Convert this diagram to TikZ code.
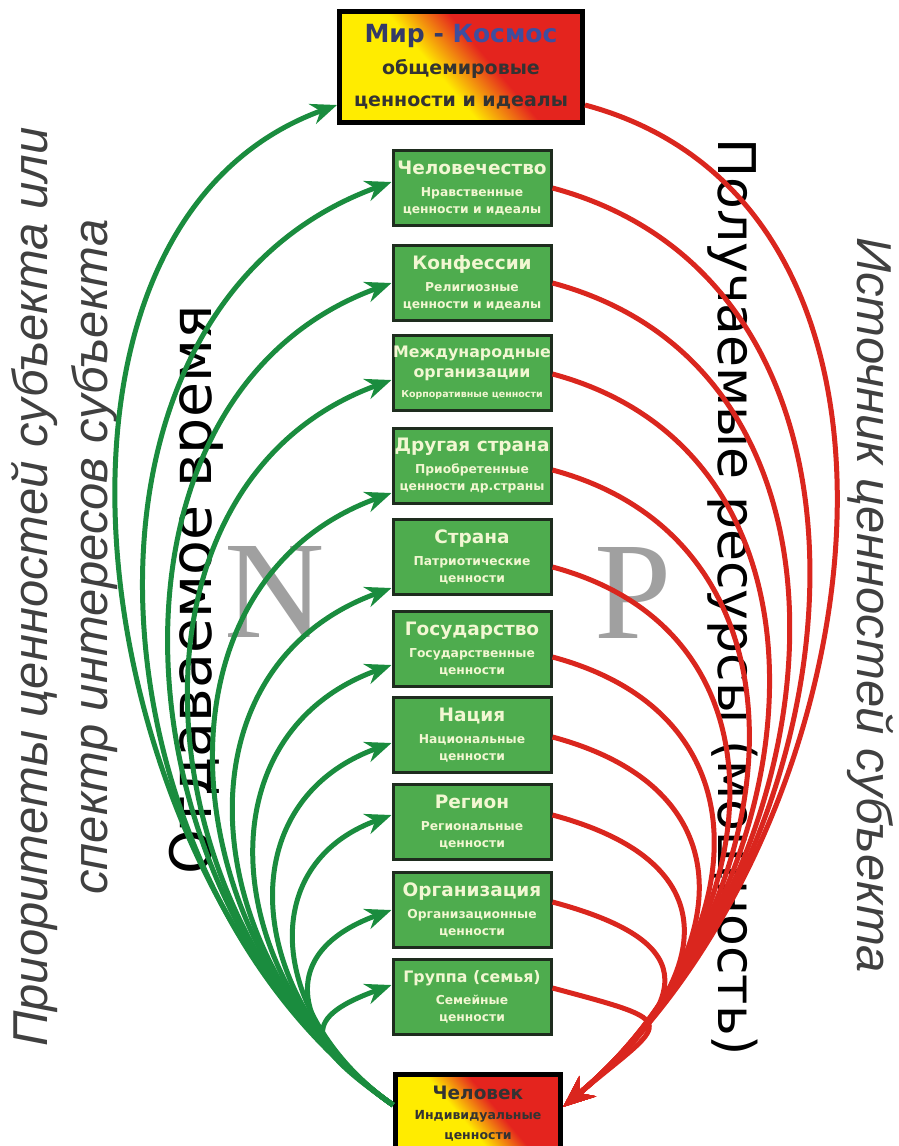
\documentclass[tikz,border=0pt]{standalone}
\usepackage{fontspec}
\setmainfont{DejaVu Sans}
\newfontfamily\sidefont{Liberation Sans}
\newfontfamily\flowfont{DejaVu Sans}
\newfontfamily\letterfont{Liberation Serif}
\usetikzlibrary{arrows.meta}

\definecolor{boxgreen}{RGB}{78,172,78}
\definecolor{boxedge}{RGB}{30,44,30}
\definecolor{boxtext}{RGB}{242,247,210}
\definecolor{arrgreen}{RGB}{26,140,62}
\definecolor{arrred}{RGB}{218,38,30}
\definecolor{gradyellow}{RGB}{255,236,0}
\definecolor{gradred}{RGB}{228,36,30}
\definecolor{navytext}{RGB}{52,58,104}
\definecolor{bluetext}{RGB}{62,78,160}
\definecolor{sidegray}{RGB}{64,64,64}
\definecolor{lettergray}{RGB}{160,160,160}

\pgfdeclarehorizontalshading{yellowred}{100bp}{color(0bp)=(gradyellow); color(44bp)=(gradyellow); color(57bp)=(gradred); color(100bp)=(gradred)}

\newcommand\ttl{\fontsize{18.5}{21}\selectfont}
\newcommand\ttls{\fontsize{15.8}{19}\selectfont}

\tikzset{
  valuebox/.style={draw=boxedge, line width=3pt, fill=boxgreen, text=boxtext,
    minimum width=158pt, minimum height=75pt, inner sep=0pt, align=center,
    font=\bfseries\fontsize{12.3}{17}\selectfont},
  worldbox/.style={draw=black, line width=5pt, shade, shading=yellowred, shading angle=40,
    minimum width=243pt, minimum height=111pt, inner sep=0pt, align=center,
    text=black!80, font=\bfseries\fontsize{19}{32}\selectfont},
  manbox/.style={worldbox, minimum width=165pt, minimum height=80pt,
    font=\bfseries\fontsize{12.5}{20}\selectfont},
  give/.style={draw=arrgreen, line width=5pt, -{Stealth[length=26pt,width=21pt]}},
  take/.style={draw=arrred, line width=5pt, -{Stealth[length=32pt,width=26pt]}},
  sidetext/.style={font=\sidefont\itshape\fontsize{49}{60}\selectfont, text=sidegray,
    anchor=base, inner sep=0pt},
  flowtext/.style={font=\flowfont\fontsize{52}{60}\selectfont, anchor=base, inner sep=0pt},
  bigletter/.style={font=\letterfont\fontsize{139}{140}\selectfont, text=lettergray, inner sep=0pt}
}

\begin{document}
\begin{tikzpicture}[x=1pt,y=1pt]
  \useasboundingbox (0,0) rectangle (898,-1146);
  \clip (0,0) rectangle (898,-1146);

  % side captions
  \node[sidetext, rotate=90] (prio) at (47,-587) {Приоритеты ценностей субъекта или};
  \node[sidetext, rotate=90] (spectr) at (107,-557) {спектр интересов субъекта};
  \node[sidetext, rotate=-90] (istoch) at (857,-605) {Источник ценностей субъекта};
  \node[flowtext, rotate=90, font=\flowfont\fontsize{57}{60}\selectfont] (otdav) at (211,-590) {Отдаваемое время};
  \node[flowtext, rotate=-90] (poluch) at (718,-597) {Получаемые ресурсы (мощность)};
  \node[bigletter] (nn) at (275,-592) {N};
  \node[bigletter] (pp) at (633,-593) {P};

  % levels
  \node[worldbox] (mir) at (461,-67)
    {\fontsize{25}{26}\selectfont{\color{navytext}Мир -} {\color{bluetext}Космос}\\ общемировые\\ ценности и идеалы};
  \foreach \name/\yc/\txt in {
      b1/188/{\ttl Человечество\\[5pt] Нравственные\\ ценности и идеалы},
      b2/283/{\ttl Конфессии\\[5pt] Религиозные\\ ценности и идеалы},
      b3/373/{\ttls Международные\\[3pt] \ttls организации\\[3pt] \fontsize{9.5}{11}\selectfont Корпоративные ценности},
      b4/466/{\ttl Другая страна\\[5pt] Приобретенные\\ ценности др.страны},
      b5/557/{\ttl Страна\\[5pt] Патриотические\\ ценности},
      b6/649/{\ttl Государство\\[5pt] Государственные\\ ценности},
      b7/735/{\ttl Нация\\[5pt] Национальные\\ ценности},
      b8/822/{\ttl Регион\\[5pt] Региональные\\ ценности},
      b9/910/{\ttl Организация\\[5pt] Организационные\\ ценности},
      b10/997/{\ttls Группа (семья)\\[5pt] Семейные\\ ценности}}
    \node[valuebox] (\name) at (472,-\yc) {\txt};
  \node[manbox] (chel) at (478,-1114)
    {\fontsize{18.5}{20}\selectfont Человек\\ Индивидуальные\\ ценности};

  % given time
  \foreach \tgt/\dy/\dist in {mir/-38pt/370pt, b1/6pt/375pt, b2/0pt/337pt, b3/-7pt/307pt,
      b4/-27pt/269pt, b5/-31pt/239pt, b6/-16pt/208pt, b7/-8pt/178pt, b8/7pt/148pt,
      b9/0pt/125pt, b10/12pt/102pt}
    \draw[give] ([yshift=9pt]chel.west) to[out=145, in=200, distance=\dist] ([yshift=\dy]\tgt.west);

  % received resources
  \foreach \src/\dy/\dist in {mir/-38pt/400pt, b1/0pt/385pt, b2/0pt/354pt, b3/-1pt/323pt,
      b4/-4pt/292pt, b5/-10pt/262pt, b6/-8pt/238pt, b7/-2pt/215pt, b8/7pt/192pt,
      b9/8pt/162pt, b10/9pt/138pt}
    \draw[take] ([yshift=\dy]\src.east) to[out=-15, in=40, distance=\dist] ([yshift=7pt]chel.east);
\end{tikzpicture}
\end{document}
